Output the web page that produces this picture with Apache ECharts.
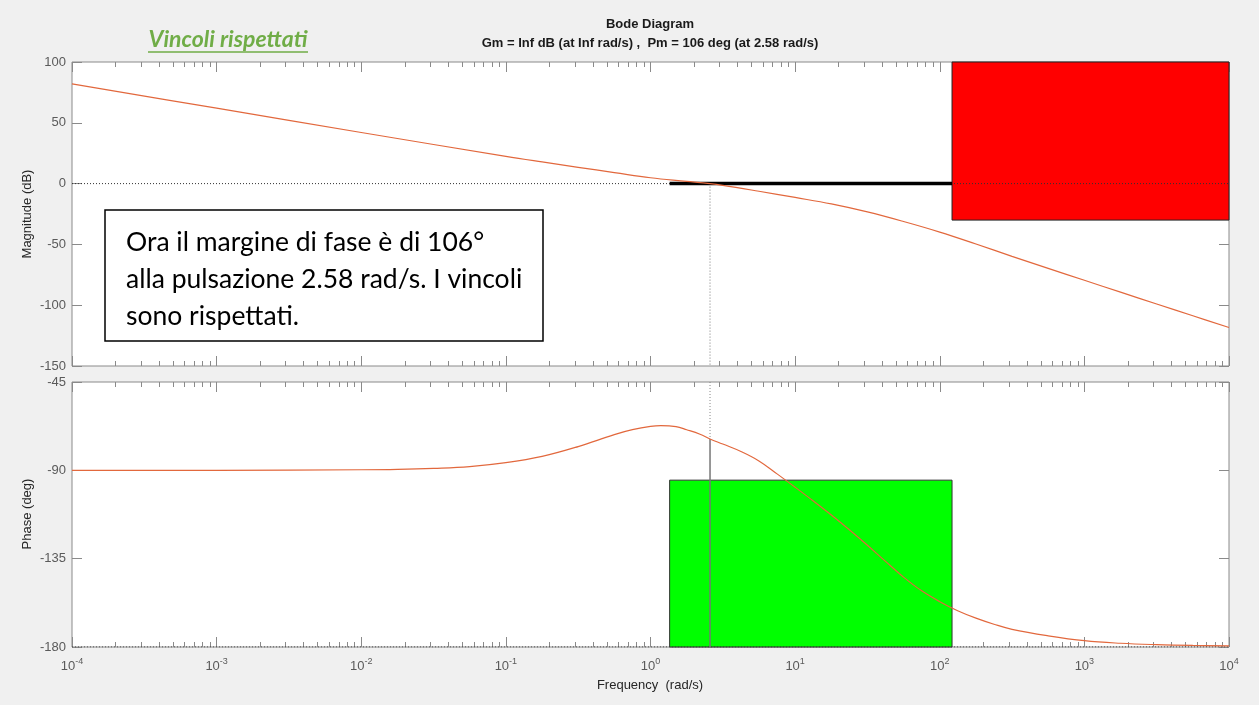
<!DOCTYPE html>
<html><head><meta charset="utf-8">
<script src="https://cdn.jsdelivr.net/npm/echarts@6/dist/echarts.min.js"></script>
<style>html,body{margin:0;padding:0;background:#f0f0f0}#c{width:1259px;height:705px}</style>
</head><body><div id="c"></div>
<script>
// ---- data ----
const freqMag = [1e-4, 1e-3, 1e-2, 0.1, 0.178, 0.316, 0.562, 1, 1.78, 2.58, 3.16, 5.62, 10, 17.8, 31.6, 56.2, 100, 178, 316, 562, 1000, 1778, 3162, 5623, 1e4];
const magDb   = [82.0, 62.0, 42.0, 22.4, 17.8, 13.4, 9.1, 4.8, 1.9, 0, -1.4, -6.3, -11.4, -16.7, -23.3, -31.2, -39.9, -49.7, -59.8, -69.7, -79.5, -89.3, -99.0, -108.7, -118.3];
const freqPh  = [1e-4, 1e-3, 0.01, 0.0178, 0.0316, 0.0562, 0.1, 0.178, 0.316, 0.562, 0.75, 1, 1.18, 1.5, 1.78, 2.2, 2.58, 3.16, 4.22, 5.62, 7.5, 10, 13.3, 17.8, 23.7, 31.6, 42.2, 56.2, 75, 100, 133, 178, 237, 316, 562, 1000, 1778, 3162, 5623, 1e4];
const phaseDeg= [-90, -90, -89.7, -89.5, -89.0, -88.1, -86.1, -82.9, -77.9, -71.8, -69.3, -67.6, -67.2, -67.7, -69.3, -71.6, -74.0, -76.6, -80.4, -85.2, -91.8, -98.6, -105.5, -112.8, -120.3, -128.2, -136.4, -144.4, -151.4, -156.9, -161.5, -165.3, -168.4, -171.0, -174.3, -176.8, -178.1, -178.8, -179.2, -179.4];
const xDecades = [1e-4, 1e-3, 1e-2, 1e-1, 1, 10, 100, 1000, 1e4];
const xTickExp = ['-4', '-3', '-2', '-1', '0', '1', '2', '3', '4'];
const minorMult = [2, 3, 4, 5, 6, 7, 8, 9];
const wc = 2.58;          // crossover frequency (rad/s)
const pmPhase = -74;      // phase at wc (Pm = 106 deg)
const redBox = [121.6, 1e4, -30, 100];      // w from, w to, dB from, dB to
const greenBox = [1.356, 121.6, -180, -95]; // w from, w to, deg from, deg to
const blackLine = [1.356, 121.6, 0];        // w from, w to, dB
const magRange = [-150, 100, 50];
const phRange = [-180, -45, 45];
const fMin = 1e-4, fMax = 1e4;

const minorTicks = [];
xDecades.slice(0, -1).forEach(d => minorMult.forEach(m => minorTicks.push(d * m)));

const FONT = 'Liberation Sans';
const frame = '#8a8a8a';
const lab = '#5a5a5a';
const curveColor = '#E2683D';

function xAx(grid, pos, ticks, len, withLabels) {
  return {
    type: 'log', logBase: 10, gridIndex: grid, position: pos, min: fMin, max: fMax,
    axisLine: {show: false, onZero: false},
    splitLine: {show: false},
    axisTick: {show: true, inside: true, length: len, customValues: ticks, lineStyle: {color: frame, width: 1}},
    axisLabel: withLabels ? {
      show: true, customValues: xDecades, margin: 10,
      formatter: v => {
        const i = xDecades.findIndex(d => Math.abs(Math.log10(d) - Math.log10(v)) < 1e-6);
        return '{b|10}{s|' + xTickExp[i] + '}';
      },
      rich: {
        b: {fontFamily: FONT, fontSize: 13, color: lab},
        s: {fontFamily: FONT, fontSize: 9, color: lab, padding: [0, 0, 10, 0]}
      }
    } : {show: false}
  };
}
function yAx(grid, pos, r, withLabels) {
  return {
    type: 'value', gridIndex: grid, position: pos, min: r[0], max: r[1], interval: r[2],
    axisLine: {show: false, onZero: false}, splitLine: {show: false},
    axisTick: {show: true, inside: true, length: 10, lineStyle: {color: frame}},
    axisLabel: withLabels ? {show: true, fontFamily: FONT, fontSize: 13, color: lab, margin: 6,
      showMinLabel: true, showMaxLabel: true} : {show: false}
  };
}
const zip = (a, b) => a.map((v, i) => [v, b[i]]);
const dotted = (color) => ({color: color, width: 1, type: [1, 2]});

const option = {
  backgroundColor: '#f0f0f0',
  animation: false,
  grid: [
    {left: 72, top: 62, width: 1157, height: 304, show: true, backgroundColor: '#fff', borderColor: frame, borderWidth: 1},
    {left: 72, top: 382, width: 1157, height: 265, show: true, backgroundColor: '#fff', borderColor: frame, borderWidth: 1}
  ],
  xAxis: [
    xAx(0, 'bottom', xDecades, 10, false), xAx(0, 'top', xDecades, 10, false),
    xAx(0, 'bottom', minorTicks, 5, false), xAx(0, 'top', minorTicks, 5, false),
    xAx(1, 'bottom', xDecades, 10, true), xAx(1, 'top', xDecades, 10, false),
    xAx(1, 'bottom', minorTicks, 5, false), xAx(1, 'top', minorTicks, 5, false)
  ],
  yAxis: [
    yAx(0, 'left', magRange, true), yAx(0, 'right', magRange, false),
    yAx(1, 'left', phRange, true), yAx(1, 'right', phRange, false)
  ],
  series: [
    {type: 'line', xAxisIndex: 0, yAxisIndex: 0, data: [[fMin, 0], [fMax, 0]], showSymbol: false, silent: true, lineStyle: dotted('#333'), z: 1},
    {type: 'line', xAxisIndex: 0, yAxisIndex: 0, data: [[wc, 0], [wc, magRange[0]]], showSymbol: false, silent: true, lineStyle: dotted('#777'), z: 1},
    {type: 'line', xAxisIndex: 0, yAxisIndex: 0, data: [], silent: true, z: 3,
      markArea: {silent: true, itemStyle: {color: '#ff0000', borderColor: '#222', borderWidth: 1},
        data: [[{coord: [redBox[0], redBox[3]]}, {coord: [redBox[1], redBox[2]]}]]}},
    {type: 'line', xAxisIndex: 0, yAxisIndex: 0, data: [[blackLine[0], blackLine[2]], [blackLine[1], blackLine[2]]], showSymbol: false, silent: true,
      lineStyle: {color: '#000', width: 3.5}, z: 4},
    {type: 'line', xAxisIndex: 0, yAxisIndex: 0, data: zip(freqMag, magDb), showSymbol: false, smooth: 0.4, silent: true,
      lineStyle: {color: curveColor, width: 1.2}, z: 5},

    {type: 'line', xAxisIndex: 4, yAxisIndex: 2, data: [[fMin, phRange[0]], [fMax, phRange[0]]], showSymbol: false, silent: true, lineStyle: dotted('#333'), z: 1},
    {type: 'line', xAxisIndex: 4, yAxisIndex: 2, data: [[wc, phRange[1]], [wc, pmPhase]], showSymbol: false, silent: true, lineStyle: dotted('#888'), z: 1},
    {type: 'line', xAxisIndex: 4, yAxisIndex: 2, data: [[wc, phRange[0]], [wc, pmPhase]], showSymbol: false, silent: true, lineStyle: {color: '#777', width: 1.5}, z: 2},
    {type: 'line', xAxisIndex: 4, yAxisIndex: 2, data: [], silent: true, z: 3,
      markArea: {silent: true, itemStyle: {color: '#00ff00', borderColor: '#333', borderWidth: 1},
        data: [[{coord: [greenBox[0], greenBox[3]]}, {coord: [greenBox[1], greenBox[2]]}]]}},
    {type: 'line', xAxisIndex: 4, yAxisIndex: 2, data: zip(freqPh, phaseDeg), showSymbol: false, smooth: 0.4, silent: true,
      lineStyle: {color: curveColor, width: 1.2}, z: 5}
  ],
  graphic: [
    {type: 'text', style: {text: 'Bode Diagram', x: 650, y: 24, align: 'center', verticalAlign: 'middle', font: 'bold 13px "Liberation Sans"', fill: '#1a1a1a'}},
    {type: 'text', style: {text: 'Gm = Inf dB (at Inf rad/s) ,  Pm = 106 deg (at 2.58 rad/s)', x: 650, y: 43, align: 'center', verticalAlign: 'middle', font: 'bold 13px "Liberation Sans"', fill: '#1a1a1a'}},
    {type: 'text', style: {text: 'Vincoli rispettati', x: 228, y: 40, align: 'center', verticalAlign: 'middle', font: 'italic bold 23px Lato', fill: '#70AD47'}},
    {type: 'line', shape: {x1: 148, y1: 52, x2: 308, y2: 52}, style: {stroke: '#70AD47', lineWidth: 1.5}},
    {type: 'text', style: {text: 'Frequency  (rad/s)', x: 650, y: 685, align: 'center', verticalAlign: 'middle', font: '13px "Liberation Sans"', fill: '#262626'}},
    {type: 'text', x: 27, y: 214, rotation: Math.PI / 2, style: {text: 'Magnitude (dB)', x: 0, y: 0, align: 'center', verticalAlign: 'middle', font: '13px "Liberation Sans"', fill: '#262626'}},
    {type: 'text', x: 27, y: 514, rotation: Math.PI / 2, style: {text: 'Phase (deg)', x: 0, y: 0, align: 'center', verticalAlign: 'middle', font: '13px "Liberation Sans"', fill: '#262626'}},
    {type: 'rect', z: 100, shape: {x: 105, y: 210, width: 438, height: 131}, style: {fill: '#fff', stroke: '#000', lineWidth: 1.5}},
    {type: 'text', z: 101, style: {text: 'Ora il margine di fase è di 106°\nalla pulsazione 2.58 rad/s. I vincoli\nsono rispettati.', x: 126, y: 224, lineHeight: 37, font: '26.5px Lato', fill: '#000', align: 'left', verticalAlign: 'top'}}
  ]
};
const chart = echarts.init(document.getElementById('c'), null, {renderer: 'canvas'});
chart.setOption(option);
</script></body></html>
